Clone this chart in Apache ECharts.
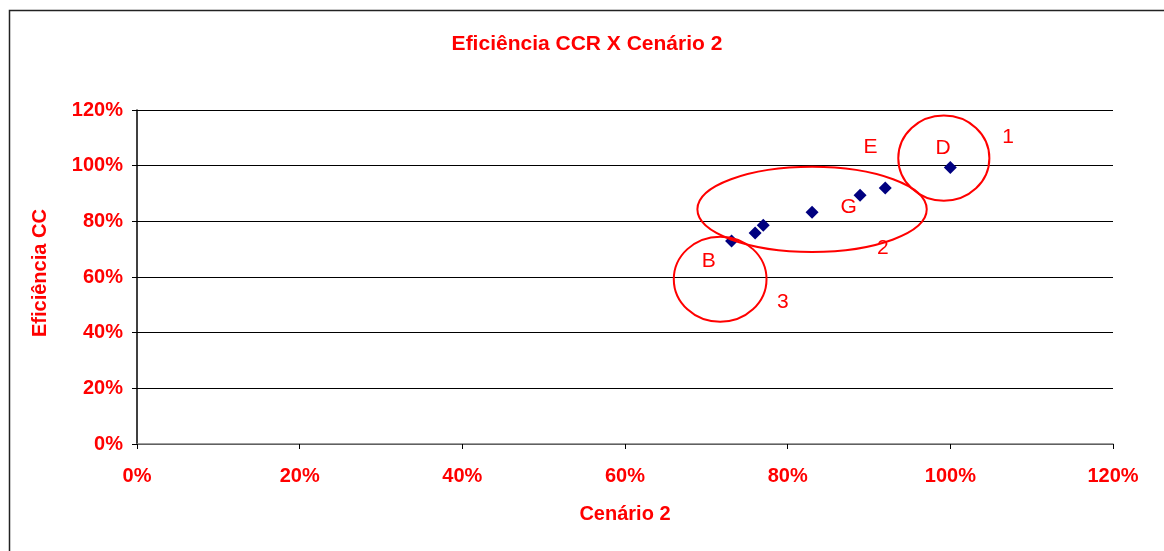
<!DOCTYPE html>
<html>
<head>
<meta charset="utf-8">
<script src="https://cdn.jsdelivr.net/npm/echarts@6/dist/echarts.min.js"></script>
<style>
  html, body { margin: 0; padding: 0; background: #fff; }
  #chart { width: 1164px; height: 551px; }
</style>
</head>
<body>
<div id="chart"></div>
<script>
// valores (em %)
const cenario2 = [73.1, 76.0, 77.0, 83.0, 88.9, 92.0, 100.0]
const eficienciaCCR = [72.9, 75.8, 78.6, 83.3, 89.4, 92.0, 99.3]
const axisTicks = [0, 20, 40, 60, 80, 100, 120]

// anotações em coordenadas do gráfico: [x, y, raioX, raioY]
const grupos = [
  [99.2, 102.7, 5.6, 15.3],
  [83.0, 84.3, 14.1, 15.3],
  [71.7, 59.2, 5.7, 15.3]
]
const rotulos = [
  [90.2, 106.5, 'E'],
  [99.1, 106.3, 'D'],
  [107.1, 110.2, '1'],
  [87.5, 85.0, 'G'],
  [91.7, 70.3, '2'],
  [70.3, 65.5, 'B'],
  [79.4, 51.1, '3']
]

const FONT = 'Liberation Sans, Arial, sans-serif'
const RED = '#ff0000'

const pontos = cenario2.map((x, i) => [x, eficienciaCCR[i]])

const chart = echarts.init(document.getElementById('chart'))

const axisBase = {
  type: 'value',
  min: axisTicks[0],
  max: axisTicks[axisTicks.length - 1],
  interval: axisTicks[1] - axisTicks[0],
  axisLabel: {
    color: RED,
    fontFamily: FONT,
    fontWeight: 'bold',
    fontSize: 20,
    formatter: '{value}%'
  },
  axisTick: { show: true, length: 5, lineStyle: { color: '#000' } }
}

chart.setOption({
  animation: false,
  backgroundColor: '#fff',
  title: {
    text: 'Eficiência CCR X Cenário 2',
    left: 582,
    top: 29,
    textAlign: 'center',
    textStyle: { color: RED, fontFamily: FONT, fontWeight: 'bold', fontSize: 21 }
  },
  grid: { left: 137, right: 51, top: 110, bottom: 107 },
  xAxis: {
    ...axisBase,
    name: 'Cenário 2',
    nameLocation: 'middle',
    nameGap: 60,
    nameTextStyle: { color: RED, fontFamily: FONT, fontWeight: 'bold', fontSize: 20 },
    axisLine: { lineStyle: { color: '#808080', width: 1.5 } },
    axisLabel: { ...axisBase.axisLabel, margin: 22 },
    splitLine: { show: false }
  },
  yAxis: {
    ...axisBase,
    axisLine: { show: true, lineStyle: { color: '#000', width: 1.5 } },
    axisLabel: { ...axisBase.axisLabel, margin: 14 },
    splitLine: { show: true, lineStyle: { color: '#000', width: 1 } }
  },
  graphic: [
    {
      type: 'rect',
      shape: { x: 9.5, y: 10.5, width: 1300, height: 700 },
      style: { fill: 'none', stroke: '#222', lineWidth: 1.5 },
      silent: true
    },
    {
      type: 'text',
      x: 40,
      y: 337,
      rotation: Math.PI / 2,
      style: {
        text: 'Eficiência CC',
        fill: RED,
        font: 'bold 20px ' + FONT,
        align: 'left',
        verticalAlign: 'middle'
      },
      silent: true
    }
  ],
  series: [
    {
      type: 'scatter',
      data: pontos,
      symbol: 'diamond',
      symbolSize: 13,
      itemStyle: { color: '#000080', opacity: 1 },
      z: 3
    },
    {
      type: 'custom',
      data: grupos,
      clip: false,
      silent: true,
      renderItem: (params, api) => {
        const c = api.coord([api.value(0), api.value(1)])
        const s = api.size([api.value(2), api.value(3)])
        return {
          type: 'ellipse',
          shape: { cx: c[0], cy: c[1], rx: s[0], ry: s[1] },
          style: { fill: 'none', stroke: RED, lineWidth: 2 }
        }
      },
      z: 4
    },
    {
      type: 'scatter',
      data: rotulos,
      symbolSize: 0,
      silent: true,
      itemStyle: { opacity: 1 },
      label: {
        show: true,
        position: 'inside',
        formatter: (p) => p.data[2],
        color: RED,
        fontFamily: FONT,
        fontSize: 21
      },
      z: 5
    }
  ]
})
</script>
</body>
</html>
